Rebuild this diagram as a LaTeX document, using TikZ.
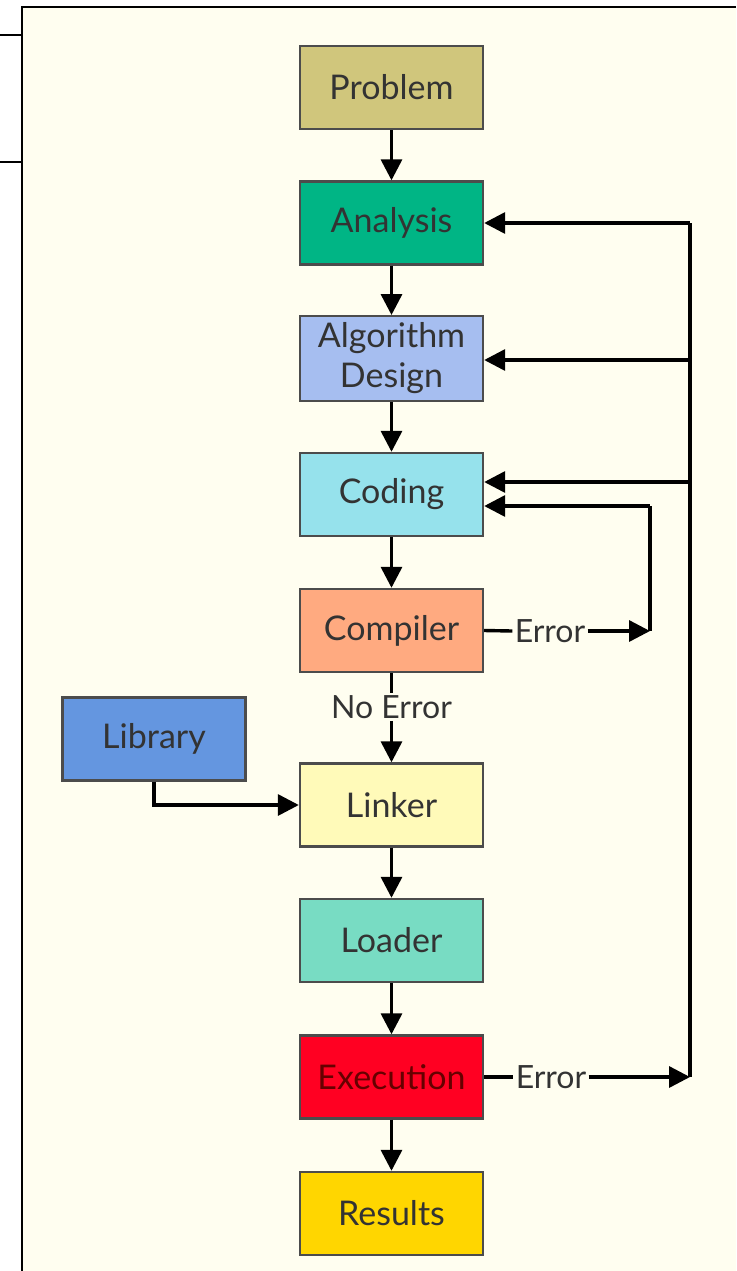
\documentclass[tikz,border=0pt]{standalone}
\usepackage{fontspec}
\setmainfont{Lato}
\usetikzlibrary{arrows.meta}
\definecolor{paper}{HTML}{FFFEF0}
\definecolor{cprob}{HTML}{D0C67C}
\definecolor{cana}{HTML}{00B585}
\definecolor{calg}{HTML}{A6BEF0}
\definecolor{ccod}{HTML}{96E2EC}
\definecolor{ccomp}{HTML}{FFAA80}
\definecolor{clib}{HTML}{6496E0}
\definecolor{clink}{HTML}{FFFAB9}
\definecolor{cload}{HTML}{78DCC3}
\definecolor{cexe}{HTML}{FF0022}
\definecolor{cres}{HTML}{FFD600}

\begin{document}
\begin{tikzpicture}[x=0.5pt,y=-0.5pt,
    box/.style={draw=black!70, line width=1.2pt, minimum width=91.5pt, minimum height=41.5pt,
      align=center, text=black!80, font=\fontsize{17}{20}\selectfont},
    lbl/.style={inner sep=1pt, text=black!80, font=\fontsize{16}{19}\selectfont},
    ln/.style={line width=1.7pt},
    arr/.style={line width=1.7pt, -{Triangle[length=10.5pt,width=10.5pt]}}]
    \useasboundingbox (0,0) rectangle (736,1271);
    % frame
    \fill[paper] (22,7) rectangle (736,1271);
    \draw[line width=1pt] (22,1271) -- (22,7) -- (736,7);
    \draw[line width=1pt] (0,35) -- (22,35);
    \draw[line width=1pt] (0,162) -- (22,162);

    % boxes
    \node[box, fill=cprob] (prob) at (391.5,87.5) {Problem};
    \node[box, fill=cana] (ana) at (391.5,223) {Analysis};
    \node[box, fill=calg] (alg) at (391.5,358.5) {Algorithm\\Design};
    \node[box, fill=ccod] (cod) at (391.5,494.5) {Coding};
    \node[box, fill=ccomp] (comp) at (391.5,630.5) {Compiler};
    \node[box, fill=clib] (lib) at (154,739) {Library};
    \node[box, fill=clink] (link) at (391.5,805) {Linker};
    \node[box, fill=cload] (load) at (391.5,940.5) {Loader};
    \node[box, fill=cexe, text=red!40!black] (exe) at (391.5,1077) {Execution};
    \node[box, fill=cres] (res) at (391.5,1213.5) {Results};

    % labels
    \node[lbl] (noerr) at (391.5,707) {No Error};
    \node[lbl] (err1) at (550,631) {Error};
    \node[lbl] (err2) at (551,1077) {Error};

    % main flow
    \draw[arr] (prob) -- (ana);
    \draw[arr] (ana) -- (alg);
    \draw[arr] (alg) -- (cod);
    \draw[arr] (cod) -- (comp);
    \draw[ln] (comp) -- (noerr);
    \draw[arr] (noerr) -- (link);
    \draw[arr] (lib.south) |- (link.west);
    \draw[arr] (link) -- (load);
    \draw[arr] (load) -- (exe);
    \draw[arr] (exe) -- (res);

    % compiler error loop
    \coordinate (c1) at (650,631);
    \coordinate (c2) at (650,506);
    \draw[ln] (comp.east) -- (err1.west);
    \draw[arr] (err1.east) -- (c1);
    \draw[ln] (c1) -- (c2);
    \draw[arr] (c2) -- (c2 -| cod.east);

    % execution error loop
    \coordinate (r1) at (690,223);
    \coordinate (r2) at (690,360);
    \coordinate (r3) at (690,482);
    \coordinate (r4) at (690,1077);
    \draw[ln] (exe.east) -- (err2.west);
    \draw[arr] (err2.east) -- (r4);
    \draw[ln] (r4) -- (r1);
    \draw[arr] (r1) -- (ana.east);
    \draw[arr] (r2) -- (r2 -| alg.east);
    \draw[arr] (r3) -- (r3 -| cod.east);
\end{tikzpicture}
\end{document}
